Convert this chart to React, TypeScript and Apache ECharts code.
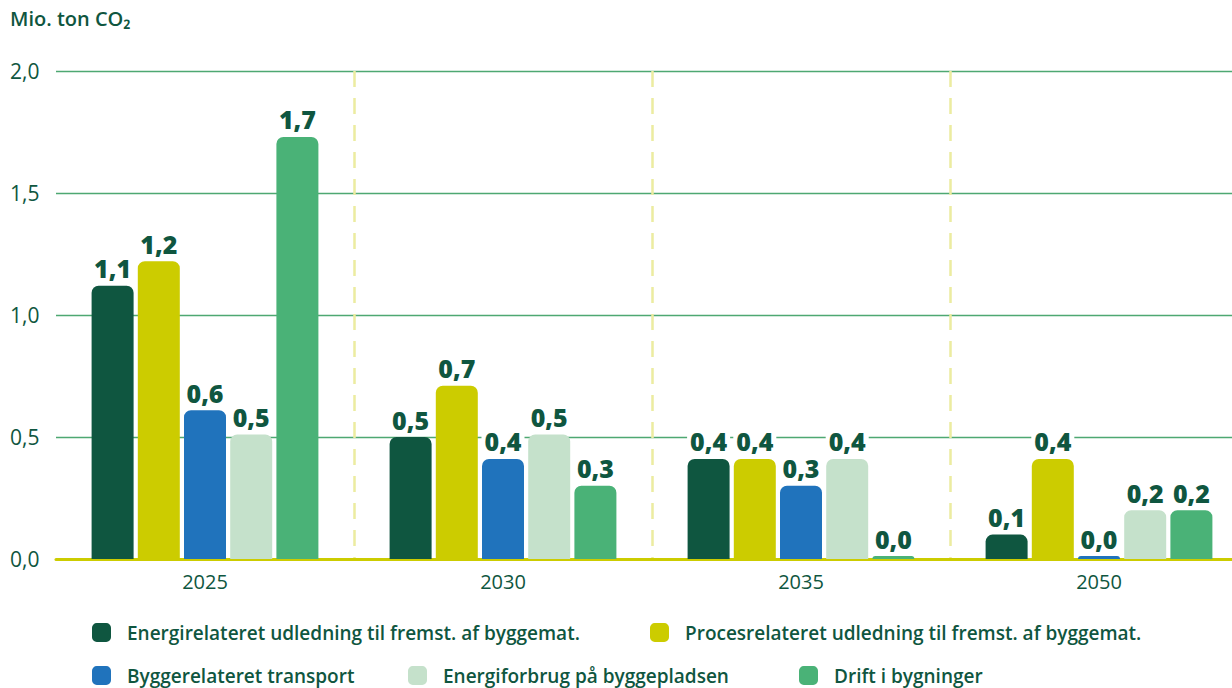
import React, { useEffect, useRef } from "react";
import * as echarts from "echarts";

const categories = ["2025", "2030", "2035", "2050"];
const seriesNames = [
  "Energirelateret udledning til fremst. af byggemat.",
  "Procesrelateret udledning til fremst. af byggemat.",
  "Byggerelateret transport",
  "Energiforbrug på byggepladsen",
  "Drift i bygninger",
];
const energirelateret = [1.12, 0.5, 0.41, 0.1];
const procesrelateret = [1.22, 0.71, 0.41, 0.41];
const transport = [0.61, 0.41, 0.3, 0.012];
const byggeplads = [0.51, 0.51, 0.41, 0.2];
const drift = [1.73, 0.3, 0.012, 0.2];
const seriesValues = [energirelateret, procesrelateret, transport, byggeplads, drift];
const colors = ["#0f5640", "#cccc00", "#2073bc", "#c5e1cb", "#4ab277"];
const yTicks = { min: 0, max: 2, interval: 0.5 };

const TEXT = "#0f5640";
const fmt = (v: number) => v.toFixed(1).replace(".", ",");

export default function App() {
  const ref = useRef<HTMLDivElement>(null);
  useEffect(() => {
    if (!ref.current) return;
    const chart = echarts.init(ref.current, undefined, { renderer: "svg" });
    const legendPos = [
      { left: 92, top: 623 },
      { left: 650, top: 623 },
      { left: 92, top: 666 },
      { left: 408, top: 666 },
      { left: 799, top: 666 },
    ];
    chart.setOption({
      animation: false,
      textStyle: { fontFamily: "Open Sans" },
      graphic: [
        {
          type: "text",
          left: 10,
          top: 8,
          style: {
            text: "Mio. ton CO₂",
            fill: TEXT,
            font: '600 20px "Open Sans"',
          },
        },
      ],
      legend: seriesNames.map((n, i) => ({
        data: [n],
        left: legendPos[i].left,
        top: legendPos[i].top,
        padding: 0,
        icon: "roundRect",
        itemWidth: 19,
        itemHeight: 19,
        selectedMode: false,
        textStyle: {
          color: TEXT,
          fontSize: 19,
          fontWeight: 600,
          fontFamily: "Open Sans",
          padding: [0, 0, 0, 11],
        },
      })),
      grid: { left: 56, right: 0, top: 71, bottom: 129 },
      xAxis: {
        type: "category",
        data: categories,
        axisLine: { show: true, lineStyle: { color: "#cccc00", width: 3 } },
        axisTick: { show: false },
        axisLabel: { color: TEXT, fontSize: 20, margin: 12, fontFamily: "Open Sans" },
        splitLine: {
          show: true,
          showMinLine: false,
          showMaxLine: false,
          lineStyle: { color: "#ececa0", width: 2.5, type: [16, 11] },
        },
      },
      yAxis: {
        type: "value",
        min: yTicks.min,
        max: yTicks.max,
        interval: yTicks.interval,
        axisLine: { show: false },
        axisTick: { show: false },
        axisLabel: {
          color: TEXT,
          fontSize: 21,
          align: "left",
          margin: 46,
          formatter: (v: number) => fmt(v),
          fontFamily: "Open Sans",
        },
        splitLine: {
          show: true,
          lineStyle: { color: "#4ea872", width: 1.3, opacity: 1, type: "solid" },
        },
      },
      series: seriesNames.map((n, i) => ({
        name: n,
        type: "bar",
        data: seriesValues[i],
        barWidth: 42,
        barGap: "10%",
        itemStyle: { color: colors[i], borderRadius: [7, 7, 0, 0] },
        label: {
          show: true,
          position: "top",
          distance: 5,
          formatter: (p: any) => fmt(p.value),
          color: TEXT,
          fontSize: 25,
          fontWeight: 800,
          fontFamily: "Open Sans",
          backgroundColor: "#ffffff",
          padding: [0, 3, 0, 3],
        },
      })),
    });
    return () => chart.dispose();
  }, []);
  return (
    <div
      style={{
        position: "fixed",
        left: 0,
        top: 0,
        width: 1232,
        height: 688,
        overflow: "hidden",
        background: "#fff",
      }}
    >
      <div ref={ref} style={{ width: 1248, height: 688 }} />
    </div>
  );
}
